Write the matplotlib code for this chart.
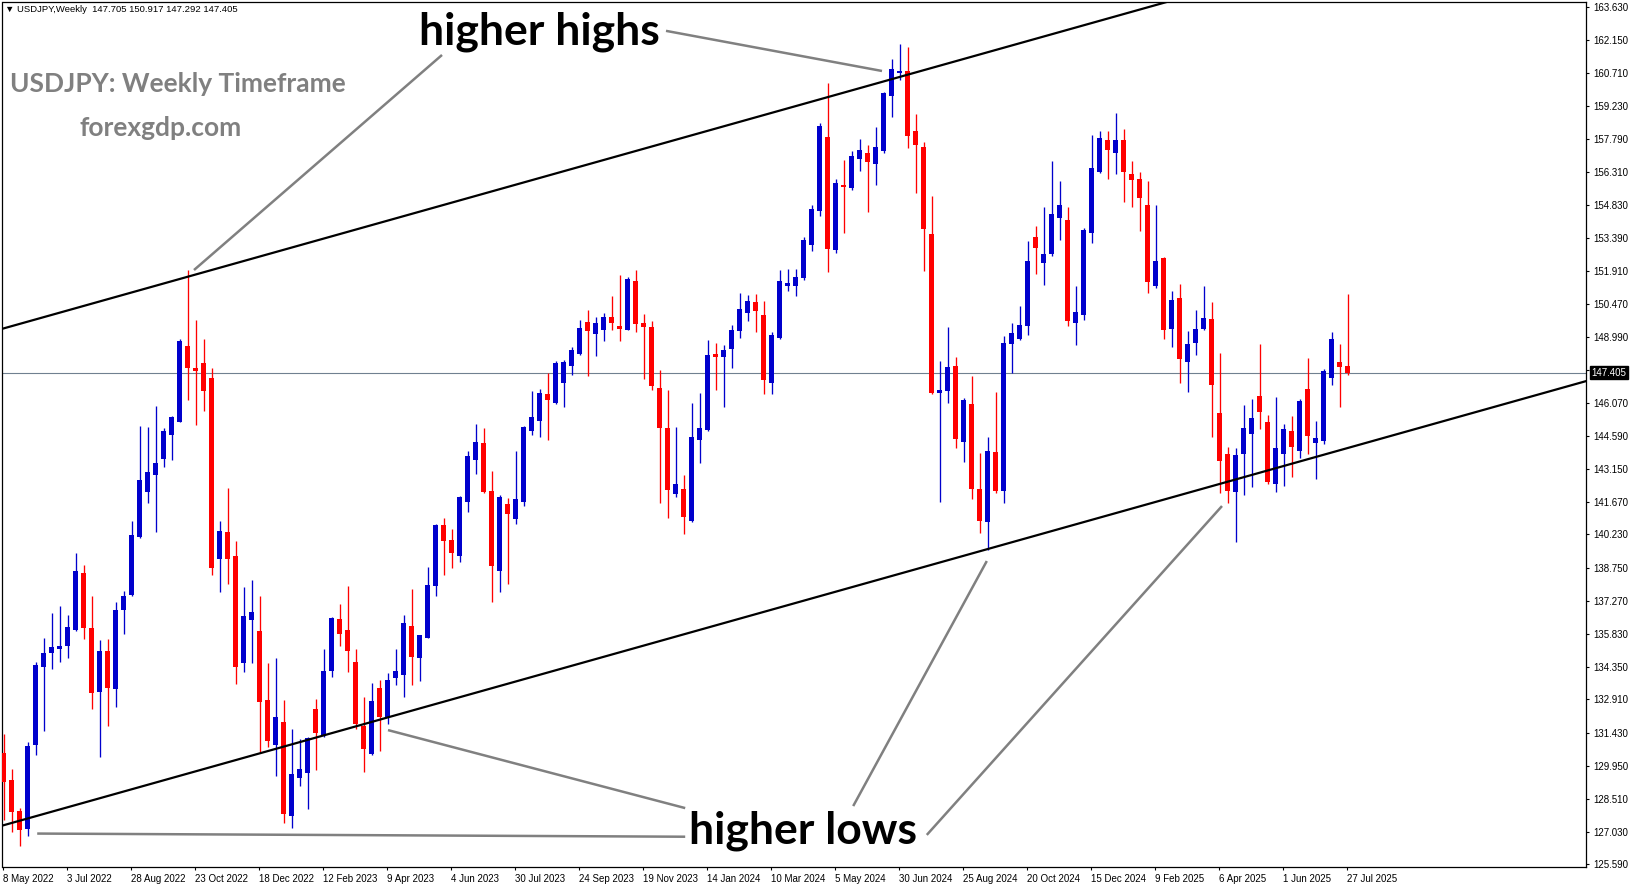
import matplotlib
matplotlib.use('Agg')
import matplotlib.pyplot as plt
import matplotlib.transforms as mtransforms
import numpy as np

# ---------------- data (USDJPY weekly, 8 May 2022 .. 27 Jul 2025) ----------------
opens = [130.52, 129.34, 127.94, 127.15, 130.90, 134.34, 134.96, 135.16, 135.26, 135.99,
         138.50, 136.08, 133.24, 135.06, 133.38, 136.86, 137.53, 140.12, 142.12, 142.87,
         143.58, 144.65, 145.24, 148.59, 147.62, 147.82, 147.16, 139.15, 140.34, 139.27,
         134.51, 136.45, 135.95, 132.88, 130.90, 131.93, 127.76, 129.42, 129.64, 132.48,
         131.29, 134.17, 136.48, 135.99, 134.56, 131.75, 130.49, 133.41, 132.10, 133.84,
         134.00, 136.16, 134.77, 135.65, 137.96, 140.63, 139.98, 139.27, 141.68, 143.51,
         144.28, 142.15, 138.62, 141.56, 140.93, 141.68, 144.84, 145.28, 146.46, 146.08,
         146.97, 147.72, 148.24, 149.64, 149.10, 149.30, 149.87, 149.48, 149.30, 151.48,
         149.60, 149.42, 146.72, 144.94, 142.03, 142.24, 140.83, 144.42, 144.87, 148.24,
         148.08, 148.45, 149.27, 150.07, 150.55, 149.97, 146.97, 148.93, 151.27, 151.25,
         151.59, 153.07, 154.58, 157.85, 152.85, 155.72, 155.62, 156.89, 157.14, 156.67,
         157.24, 159.70, 160.70, 160.79, 158.13, 157.43, 153.56, 146.49, 146.61, 147.70,
         144.35, 146.02, 142.25, 140.77, 143.89, 142.17, 148.66, 148.90, 149.49, 153.41,
         152.29, 152.67, 154.28, 154.18, 149.59, 149.96, 153.61, 156.32, 157.75, 157.16,
         157.73, 156.22, 155.99, 154.84, 151.26, 152.49, 149.34, 150.72, 147.88, 148.73,
         149.34, 149.78, 145.60, 143.82, 142.12, 143.78, 144.67, 146.37, 145.23, 142.45,
         143.78, 144.82, 143.94, 146.66, 144.30, 144.39, 147.15, 147.89, 147.705]
highs = [131.37, 129.84, 128.10, 131.03, 134.55, 135.62, 136.76, 137.06, 136.64, 139.40,
         138.89, 137.48, 135.53, 135.57, 137.23, 137.74, 140.83, 145.04, 145.00, 145.92,
         144.95, 145.50, 148.89, 151.97, 149.74, 148.89, 147.62, 140.83, 142.29, 139.95,
         137.91, 138.21, 137.48, 134.51, 134.77, 132.88, 131.59, 131.15, 131.24, 132.95,
         135.14, 136.55, 137.15, 137.94, 135.14, 133.04, 133.63, 133.78, 134.09, 135.14,
         136.64, 137.82, 135.79, 138.79, 140.71, 140.97, 140.46, 141.95, 143.94, 145.12,
         144.96, 143.04, 141.98, 141.85, 143.94, 145.04, 146.60, 146.67, 147.41, 147.94,
         147.97, 148.53, 149.75, 150.19, 149.87, 150.04, 150.81, 151.74, 151.67, 151.97,
         150.01, 149.70, 147.53, 146.64, 145.01, 142.87, 146.05, 146.49, 148.86, 148.71,
         148.64, 149.50, 150.96, 150.83, 150.90, 150.60, 149.23, 151.94, 152.01, 152.01,
         153.44, 154.85, 158.50, 160.27, 155.99, 156.84, 157.24, 157.77, 157.51, 158.29,
         159.87, 161.32, 161.97, 161.87, 158.88, 157.66, 155.25, 147.92, 149.45, 148.12,
         146.30, 147.26, 143.86, 144.57, 146.56, 149.05, 149.63, 150.37, 153.25, 153.91,
         154.77, 156.79, 155.91, 154.74, 151.26, 153.84, 157.95, 158.12, 158.12, 158.94,
         158.21, 156.79, 156.32, 155.91, 154.84, 152.55, 151.03, 151.34, 149.27, 150.18,
         151.25, 150.54, 148.30, 144.12, 144.05, 145.97, 146.23, 148.67, 145.52, 146.31,
         145.13, 145.48, 146.24, 148.07, 145.26, 147.55, 149.19, 148.70, 150.917]
lows = [127.55, 127.04, 126.40, 126.87, 130.44, 131.49, 134.28, 134.55, 134.77, 135.96,
        135.57, 132.48, 130.35, 131.71, 132.56, 135.82, 137.52, 140.08, 141.64, 140.34,
        143.22, 143.53, 145.21, 146.19, 145.09, 145.69, 138.45, 137.69, 138.05, 133.61,
        134.14, 134.51, 130.57, 130.78, 129.50, 127.43, 127.21, 129.05, 128.06, 129.76,
        131.26, 133.92, 135.26, 134.11, 131.58, 129.68, 130.44, 130.64, 131.83, 133.55,
        133.04, 133.53, 133.75, 135.62, 137.52, 138.45, 138.76, 139.01, 141.22, 142.92,
        142.07, 137.23, 137.69, 138.04, 140.71, 141.51, 144.64, 144.57, 144.42, 146.02,
        145.90, 147.31, 148.20, 147.28, 148.15, 148.82, 149.30, 148.82, 149.30, 149.23,
        147.13, 146.64, 141.64, 140.98, 141.87, 140.25, 140.80, 143.42, 144.82, 146.64,
        145.90, 147.63, 148.96, 149.72, 149.23, 146.46, 146.46, 148.90, 151.03, 150.81,
        151.52, 152.82, 154.36, 151.89, 152.73, 153.62, 155.51, 156.37, 154.55, 155.73,
        157.17, 158.76, 160.39, 157.39, 155.39, 151.93, 146.45, 141.68, 146.08, 144.05,
        143.46, 141.79, 140.28, 139.54, 142.08, 141.64, 147.38, 148.85, 149.08, 151.79,
        151.30, 152.59, 153.29, 149.47, 148.63, 149.74, 153.17, 156.28, 156.00, 156.22,
        154.97, 154.77, 153.70, 150.95, 151.17, 148.90, 148.56, 146.96, 146.56, 148.19,
        149.30, 144.56, 142.08, 141.64, 139.91, 141.98, 142.35, 144.90, 142.45, 142.12,
        142.39, 142.79, 143.63, 143.78, 142.69, 144.22, 146.86, 145.90, 147.292]
closes = [129.25, 127.93, 127.13, 130.83, 134.43, 134.97, 135.24, 135.28, 136.13, 138.59,
          136.08, 133.21, 135.06, 133.41, 136.86, 137.52, 140.20, 142.66, 143.00, 143.39,
          144.82, 145.45, 148.81, 147.62, 147.48, 146.60, 138.76, 140.39, 139.13, 134.34,
          136.62, 136.79, 132.81, 131.08, 132.14, 127.84, 129.59, 129.81, 131.20, 131.42,
          134.17, 136.52, 135.82, 135.07, 131.83, 130.73, 132.82, 132.14, 133.77, 134.17,
          136.30, 134.80, 135.77, 137.99, 140.66, 139.95, 139.39, 141.90, 143.72, 144.33,
          142.12, 138.81, 141.90, 141.14, 141.78, 144.99, 145.43, 146.49, 146.20, 147.82,
          147.87, 148.42, 149.38, 149.27, 149.60, 149.87, 149.63, 149.35, 151.57, 149.57,
          149.44, 146.83, 144.97, 142.18, 142.47, 141.02, 144.54, 144.94, 148.19, 148.11,
          148.42, 149.30, 150.24, 150.59, 150.12, 147.09, 149.08, 151.48, 151.40, 151.64,
          153.29, 154.65, 158.35, 152.89, 155.81, 155.66, 157.02, 157.29, 156.77, 157.40,
          159.83, 160.88, 160.79, 157.92, 157.51, 153.78, 146.52, 146.64, 147.64, 144.45,
          146.20, 142.25, 140.84, 143.93, 142.16, 148.74, 149.18, 149.52, 152.36, 152.95,
          152.67, 154.44, 154.84, 149.71, 150.09, 153.73, 156.48, 157.80, 157.28, 157.75,
          156.32, 155.95, 155.17, 151.44, 152.36, 149.30, 150.63, 148.02, 148.67, 149.34,
          149.81, 146.86, 143.50, 142.17, 143.75, 144.93, 145.38, 145.64, 142.57, 144.05,
          144.89, 144.12, 146.15, 144.61, 144.53, 147.48, 148.90, 147.67, 147.405]

date_labels = ['8 May 2022', '3 Jul 2022', '28 Aug 2022', '23 Oct 2022', '18 Dec 2022',
               '12 Feb 2023', '9 Apr 2023', '4 Jun 2023', '30 Jul 2023', '24 Sep 2023',
               '19 Nov 2023', '14 Jan 2024', '10 Mar 2024', '5 May 2024', '30 Jun 2024',
               '25 Aug 2024', '20 Oct 2024', '15 Dec 2024', '9 Feb 2025', '6 Apr 2025',
               '1 Jun 2025', '27 Jul 2025']
price_ticks = [163.630, 162.150, 160.710, 159.230, 157.790, 156.310, 154.830, 153.390,
               151.910, 150.470, 148.990, 147.510, 146.070, 144.590, 143.150, 141.670,
               140.230, 138.750, 137.270, 135.830, 134.350, 132.910, 131.430, 129.950,
               128.510, 127.030, 125.590]
last_price = 147.405

# channel (price at first week, slope per week)
upper_start, lower_start, channel_slope = 149.37, 127.33, 0.0996

# annotation pointer lines: ((week, price), (week, price))
pointers_highs = [((54.8, 161.50), (23.8, 151.96)), ((82.8, 162.57), (109.8, 160.79))]
pointers_lows = [((85.2, 128.09), (48.05, 131.55)), ((85.2, 126.82), (4.2, 126.96)),
                 ((106.2, 128.18), (122.9, 139.05)), ((115.4, 126.90), (152.3, 141.49))]

# ---------------- figure ----------------
W, H = 1631, 888
fig = plt.figure(figsize=(W / 100, H / 100), dpi=100)
fig.patch.set_facecolor('white')
L_, R_, T_, B_ = 2.5, 1586, 2, 866.7
ax = fig.add_axes([L_ / W, 1 - B_ / H, (R_ - L_) / W, (B_ - T_) / H])
ax.set_facecolor('white')

n = len(opens)
x = np.arange(n)
o = np.array(opens); h = np.array(highs); l = np.array(lows); c = np.array(closes)
up = c >= o
cols = np.where(up, '#0000CC', '#FF0000')

ax.vlines(x, l, h, colors=cols, linewidth=0.95, zorder=3)
body_bottom = np.minimum(o, c)
body_h = np.maximum(np.abs(c - o), 0.05)
ax.bar(x, body_h, bottom=body_bottom, width=0.6, color=cols, linewidth=0, zorder=4)

xlim = ((L_ - 3.6) / 8, (R_ - 3.6) / 8)
ax.set_xlim(*xlim)
ax.set_ylim(125.49, 163.85)

# current price line
ax.axhline(last_price, color='#708090', linewidth=0.8, zorder=2)

# channel lines
xx = np.array(xlim)
ax.plot(xx, upper_start + channel_slope * xx, color='black', linewidth=1.6, zorder=5)
ax.plot(xx, lower_start + channel_slope * xx, color='black', linewidth=1.6, zorder=5)

# pointer lines
for (a, b) in pointers_highs + pointers_lows:
    ax.plot([a[0], b[0]], [a[1], b[1]], color='#808080', linewidth=1.8,
            solid_capstyle='butt', zorder=6)

# axes styling
for s in ax.spines.values():
    s.set_color('black')
    s.set_linewidth(0.9)
ax.yaxis.tick_right()
ax.set_yticks(price_ticks)
ax.set_yticklabels([f'{v:.3f}' for v in price_ticks])
ax.tick_params(axis='y', direction='out', length=2.5, width=0.8, pad=3,
               labelsize=7, colors='black')
xt = np.arange(0, n, 8) - 0.1
ax.set_xticks(xt)
ax.set_xticklabels(date_labels)
ax.tick_params(axis='x', direction='out', length=2.5, width=0.8, pad=3,
               labelsize=7, colors='black')
for lab in ax.get_xticklabels() + ax.get_yticklabels():
    lab.set_fontfamily(['Liberation Sans', 'DejaVu Sans'])
for lab in ax.get_xticklabels():
    lab.set_horizontalalignment('left')

# current price box
trans = mtransforms.blended_transform_factory(ax.transAxes, ax.transData)
ax.text(1.0035, last_price, f'{last_price:.3f}', transform=trans, ha='left', va='center',
        fontsize=7, color='white', family=['Liberation Sans', 'DejaVu Sans'],
        bbox=dict(boxstyle='square,pad=0.18', fc='black', ec='black'),
        clip_on=False, zorder=20)

# header
fig.text(5 / W, 1 - 9 / H, '\u25BC USDJPY,Weekly  147.705 150.917 147.292 147.405',
         ha='left', va='center', fontsize=6.8, color='black',
         family=['Liberation Sans', 'DejaVu Sans'])

# titles / annotations
fig.text(178 / W, 1 - 92 / H, 'USDJPY: Weekly Timeframe', ha='center', va='baseline',
         fontsize=19, fontweight='bold', color='#808080', family=['Lato', 'DejaVu Sans'])
fig.text(161 / W, 1 - 136.5 / H, 'forexgdp.com', ha='center', va='baseline',
         fontsize=19, fontweight='bold', color='#808080', family=['Lato', 'DejaVu Sans'])
fig.text(539.5 / W, 1 - 44.5 / H, 'higher highs', ha='center', va='baseline',
         fontsize=32, fontweight='bold', color='black', family=['Lato', 'DejaVu Sans'])
fig.text(803 / W, 1 - 843 / H, 'higher lows', ha='center', va='baseline',
         fontsize=32, fontweight='bold', color='black', family=['Lato', 'DejaVu Sans'])

fig.savefig('out.png', dpi=100, facecolor='white')
